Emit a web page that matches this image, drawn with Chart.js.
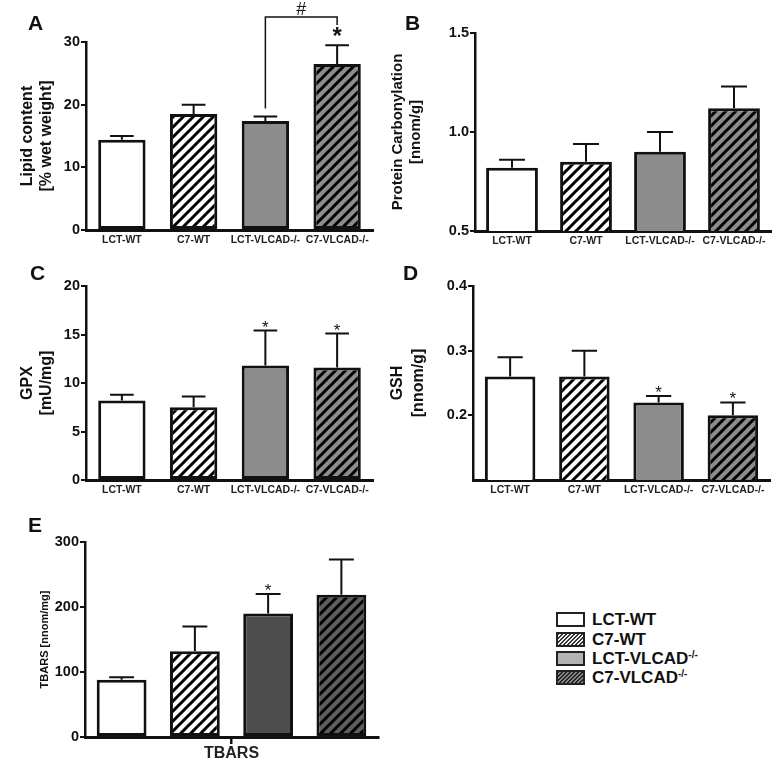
<!DOCTYPE html>
<html>
<head>
<meta charset="utf-8">
<script src="https://cdn.jsdelivr.net/npm/chart.js@4.4.1/dist/chart.umd.min.js"></script>
<style>
  body { margin: 0; background: #fff; }
  #page { position: relative; width: 774px; height: 760px; background: #fff;
          font-family: 'Liberation Sans', Arial, sans-serif; overflow: hidden; }
  canvas { position: absolute; }
  .letter { position: absolute; font-weight: bold; font-size: 21px; line-height: 1; color: #111; }
  .legend { position: absolute; left: 556px; top: 610px; }
  .row { display: flex; align-items: center; height: 19.4px; }
  .sw { display: inline-block; width: 25px; height: 11px; border: 2px solid #222; margin-right: 7px; }
  .lab { font-weight: bold; font-size: 17px; color: #111; line-height: 1; }
  .lab sup { font-size: 10px; vertical-align: 6px; }
</style>
</head>
<body>
<div id="page">
  <canvas id="chartA" width="387" height="256" style="left:0;top:0"></canvas>
  <canvas id="chartB" width="387" height="256" style="left:387px;top:0"></canvas>
  <canvas id="chartC" width="387" height="248" style="left:0;top:256px"></canvas>
  <canvas id="chartD" width="387" height="248" style="left:387px;top:256px"></canvas>
  <canvas id="chartE" width="387" height="256" style="left:0;top:504px"></canvas>

  <div class="letter" style="left:28px;top:12px">A</div>
  <div class="letter" style="left:405px;top:12px">B</div>
  <div class="letter" style="left:30px;top:262px">C</div>
  <div class="letter" style="left:403px;top:262px">D</div>
  <div class="letter" style="left:28px;top:514px">E</div>

  <div class="legend">
    <div class="row"><span class="sw" style="background:#fff"></span><span class="lab">LCT-WT</span></div>
    <div class="row"><span class="sw" style="background:repeating-linear-gradient(135deg,#333 0 1.3px,#f2f2f2 1.3px 2.8px)"></span><span class="lab">C7-WT</span></div>
    <div class="row"><span class="sw" style="background:#b2b2b2"></span><span class="lab">LCT-VLCAD<sup>-/-</sup></span></div>
    <div class="row"><span class="sw" style="background:repeating-linear-gradient(135deg,#222 0 1.3px,#8a8a8a 1.3px 2.8px)"></span><span class="lab">C7-VLCAD<sup>-/-</sup></span></div>
  </div>
</div>

<script>
// groups on the x axis
const groups = ['LCT-WT', 'C7-WT', 'LCT-VLCAD-/-', 'C7-VLCAD-/-'];

// A - lipid content [% wet weight]
const lipidMean = [14.4, 18.5, 17.4, 26.5];
const lipidSem = [0.6, 1.5, 0.7, 3.0];
// B - protein carbonylation [nnom/g]
const carbonylMean = [0.82, 0.85, 0.90, 1.12];
const carbonylSem = [0.04, 0.09, 0.10, 0.11];
// C - GPX [mU/mg]
const gpxMean = [8.2, 7.5, 11.8, 11.6];
const gpxSem = [0.6, 1.1, 3.6, 3.5];
// D - GSH [nnom/g]
const gshMean = [0.26, 0.26, 0.22, 0.20];
const gshSem = [0.03, 0.04, 0.01, 0.02];
// E - TBARS [nnom/mg]
const tbarsMean = [88, 132, 190, 219];
const tbarsSem = [4, 38, 30, 54];

// which bars carry a significance star
const starsA = [3];
const starsC = [2, 3];
const starsD = [2, 3];
const starsE = [2];

Chart.defaults.font.family = "'Liberation Sans', Arial, sans-serif";
Chart.defaults.color = '#111';

// diagonal "/" hatch
function hatch(bg) {
  const c = document.createElement('canvas');
  c.width = 10; c.height = 10;
  const x = c.getContext('2d');
  x.fillStyle = bg;
  x.fillRect(0, 0, 10, 10);
  x.strokeStyle = '#000';
  x.lineWidth = 3;
  x.beginPath();
  x.moveTo(-2, 12); x.lineTo(12, -2);
  x.moveTo(-2, 2); x.lineTo(2, -2);
  x.moveTo(8, 12); x.lineTo(12, 8);
  x.stroke();
  return x.createPattern(c, 'repeat');
}

const fillsAD = ['#ffffff', hatch('#ffffff'), '#8c8c8c', hatch('#8c8c8c')];
const fillsE = ['#ffffff', hatch('#ffffff'), '#4d4d4d', hatch('#5e5e5e')];

// error bars, stars and the # bracket
const errorBars = {
  id: 'errorBars',
  afterDatasetsDraw(chart, args, opts) {
    const ctx = chart.ctx;
    const y = chart.scales.y;
    const tops = [];
    const xs = [];
    ctx.save();
    ctx.strokeStyle = '#111';
    ctx.fillStyle = '#111';
    ctx.lineWidth = 2;
    chart.data.datasets.forEach((ds, di) => {
      chart.getDatasetMeta(di).data.forEach((bar, i) => {
        const k = chart.data.datasets.length > 1 ? di : i;
        const top = y.getPixelForValue(ds.data[i] + ds.sem[i]);
        const half = bar.width / 4;
        ctx.beginPath();
        ctx.moveTo(bar.x, bar.y);
        ctx.lineTo(bar.x, top);
        ctx.moveTo(bar.x - half, top);
        ctx.lineTo(bar.x + half, top);
        ctx.stroke();
        tops[k] = top;
        xs[k] = bar.x;
      });
    });
    ctx.font = opts.starFont;
    ctx.textAlign = 'center';
    ctx.textBaseline = 'alphabetic';
    (opts.stars || []).forEach(k => ctx.fillText('*', xs[k], tops[k] + opts.starDy));
    if (opts.bracket) {
      const b = opts.bracket;
      const by = chart.chartArea.top - 25;
      ctx.lineWidth = 1.5;
      ctx.beginPath();
      ctx.moveTo(xs[b.from], tops[b.from] - 8);
      ctx.lineTo(xs[b.from], by);
      ctx.lineTo(xs[b.to], by);
      ctx.lineTo(xs[b.to], by + 8);
      ctx.stroke();
      ctx.font = '18px "Liberation Sans", Arial, sans-serif';
      ctx.fillText(b.label, (xs[b.from] + xs[b.to]) / 2, by - 2);
    }
    ctx.restore();
  }
};

function panel(id, p) {
  return new Chart(document.getElementById(id), {
    type: 'bar',
    data: p.data,
    options: {
      responsive: false,
      animation: false,
      layout: { padding: { left: 0, top: p.top, right: p.right, bottom: 0 } },
      plugins: {
        legend: { display: false },
        tooltip: { enabled: false },
        errorBars: p.err
      },
      datasets: { bar: { categoryPercentage: 1, barPercentage: p.bar } },
      scales: {
        x: {
          grid: p.xGrid || { display: false, drawTicks: false },
          border: { display: true, color: '#111', width: 3 },
          ticks: {
            autoSkip: false, maxRotation: 0, padding: p.xPad,
            color: '#222', font: p.xFont || { size: 10.5, weight: 'bold' }
          },
          afterFit: s => { s.height = p.xh; }
        },
        y: {
          min: p.min, max: p.max,
          grid: {
            drawOnChartArea: false, drawTicks: true, tickLength: 5, lineWidth: 2,
            color: p.tickColor || '#111'
          },
          border: { display: true, color: '#111', width: 2.5 },
          ticks: {
            stepSize: p.step, padding: 1, color: '#111',
            font: { size: 14.5, weight: 'bold' },
            callback: p.fmt
          },
          title: {
            display: true, text: p.title, color: '#111',
            font: { size: p.titleSize || 15, weight: 'bold', lineHeight: p.titleLh || 1.2 },
            padding: { top: p.titlePad, bottom: 0 }
          },
          afterFit: s => { s.width = p.yw; }
        }
      }
    },
    plugins: [errorBars]
  });
}

function single(mean, sem) {
  return {
    labels: groups,
    datasets: [{
      data: mean, sem: sem,
      backgroundColor: fillsAD, borderColor: '#111', borderWidth: 3, borderSkipped: false
    }]
  };
}

panel('chartA', {
  data: single(lipidMean, lipidSem),
  top: 42, right: 14, xh: 26, yw: 86, bar: 0.66, xPad: 4,
  min: 0, max: 30, step: 10, fmt: v => v,
  title: ['Lipid content', '[% wet weight]'], titleSize: 16, titlePad: 18,
  err: { stars: starsA, starFont: 'bold 24px "Liberation Sans", Arial, sans-serif', starDy: -1,
         bracket: { from: 2, to: 3, label: '#' } }
});

panel('chartB', {
  data: single(carbonylMean, carbonylSem),
  top: 33, right: 3, xh: 25, yw: 88, bar: 0.7, xPad: 4,
  min: 0.5, max: 1.5, step: 0.5, fmt: v => v.toFixed(1),
  title: ['Protein Carbonylation', '[nnom/g]'], titlePad: 2,
  err: { stars: [], starFont: '16px sans-serif', starDy: 0 }
});

panel('chartC', {
  data: single(gpxMean, gpxSem),
  top: 30, right: 14, xh: 24, yw: 86, bar: 0.66, xPad: 4,
  min: 0, max: 20, step: 5, fmt: v => v,
  title: ['GPX', '[mU/mg]'], titleSize: 16, titlePad: 18,
  err: { stars: starsC, starFont: '17px "Liberation Sans", Arial, sans-serif', starDy: 2 }
});

panel('chartD', {
  data: single(gshMean, gshSem),
  top: 30, right: 4, xh: 24, yw: 86, bar: 0.68, xPad: 4,
  min: 0.1, max: 0.4, step: 0.1,
  fmt: v => (v < 0.15 ? '' : v.toFixed(1)),
  tickColor: c => (c.tick && c.tick.value < 0.15 ? 'rgba(0,0,0,0)' : '#111'),
  title: ['GSH', '[nnom/g]'], titleSize: 16, titlePad: 0, titleLh: 1.3,
  err: { stars: starsD, starFont: '17px "Liberation Sans", Arial, sans-serif', starDy: 2 }
});

panel('chartE', {
  data: {
    labels: ['TBARS'],
    datasets: groups.map((g, i) => ({
      label: g, data: [tbarsMean[i]], sem: [tbarsSem[i]],
      backgroundColor: fillsE[i], borderColor: '#111', borderWidth: 3, borderSkipped: false
    }))
  },
  top: 38, right: 9, xh: 23, yw: 85, bar: 0.68, xPad: 0,
  xGrid: { display: true, drawOnChartArea: false, drawTicks: true, offset: false,
           tickLength: 7, lineWidth: 2.5, color: '#111' },
  xFont: { size: 16, weight: 'bold' },
  min: 0, max: 300, step: 100, fmt: v => v,
  title: 'TBARS [nnom/mg]', titleSize: 11, titlePad: 38,
  err: { stars: starsE, starFont: '17px "Liberation Sans", Arial, sans-serif', starDy: 2 }
});
</script>
</body>
</html>
